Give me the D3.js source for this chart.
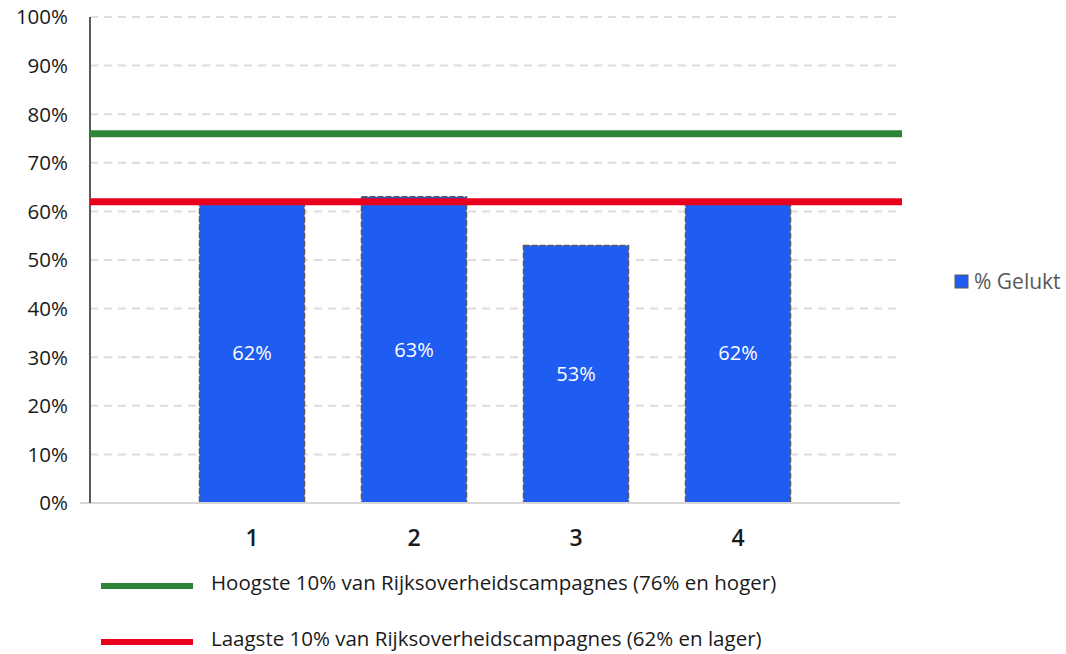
<!DOCTYPE html>
<html>
<head>
<meta charset="utf-8">
<script src="https://cdn.jsdelivr.net/npm/d3@7"></script>
<style>
  html, body { margin: 0; padding: 0; background: #fff; }
  svg { display: block; font-family: "Open Sans", Lato, sans-serif; }
</style>
</head>
<body>
<svg id="chart" width="1066" height="654"></svg>
<script>
// Campaign scores (% Gelukt) with benchmark thresholds
const categories = ["1", "2", "3", "4"];
const gelukt = [62, 63, 53, 62];
const yTicks = [0, 10, 20, 30, 40, 50, 60, 70, 80, 90, 100];
const benchmarkNames = [
  "Hoogste 10% van Rijksoverheidscampagnes (76% en hoger)",
  "Laagste 10% van Rijksoverheidscampagnes (62% en lager)"
];
const benchmarkValues = [76, 62];
const benchmarkColors = ["#2e8539", "#e8001c"];
const seriesName = "% Gelukt";

const svg = d3.select("#chart");
const plotLeft = 90, plotRight = 900, plotTop = 17, plotBottom = 503;

const y = d3.scaleLinear().domain([0, 100]).range([plotBottom, plotTop]);
// slots 0..5 span the plot; categories sit on slots 1..4
const x = d3.scalePoint().domain(["", ...categories, " "]).range([plotLeft, plotRight]);
const barW = 105;

// dashed gridlines
svg.append("g").selectAll("line")
  .data(yTicks.filter(t => t > 0))
  .join("line")
  .attr("x1", plotLeft).attr("x2", plotRight - 2)
  .attr("y1", d => y(d)).attr("y2", d => y(d))
  .attr("stroke", "#e0dcdc").attr("stroke-width", 2)
  .attr("stroke-dasharray", "8,6");

// y tick labels
svg.append("g").selectAll("text")
  .data(yTicks)
  .join("text")
  .attr("x", 68).attr("y", d => y(d))
  .attr("dy", "0.36em")
  .attr("text-anchor", "end")
  .attr("font-size", 20.5)
  .attr("fill", "#1a1a1a")
  .text(d => d + "%");

// bars
svg.append("g").selectAll("rect")
  .data(gelukt)
  .join("rect")
  .attr("x", (d, i) => x(categories[i]) - barW / 2)
  .attr("y", d => y(d))
  .attr("width", barW)
  .attr("height", d => y(0) - y(d))
  .attr("fill", "#1f5cf2")
  .attr("stroke", "#5a5a5a")
  .attr("stroke-width", 1.5)
  .attr("stroke-dasharray", "6,2");

// value labels inside the bars
svg.append("g").selectAll("text")
  .data(gelukt)
  .join("text")
  .attr("x", (d, i) => x(categories[i]))
  .attr("y", d => (y(d) + y(0)) / 2)
  .attr("dy", "0.36em")
  .attr("text-anchor", "middle")
  .attr("font-size", 20)
  .attr("fill", "#ffffff")
  .text(d => d + "%");

// axis lines
svg.append("line")
  .attr("x1", plotLeft - 10).attr("x2", plotRight)
  .attr("y1", plotBottom).attr("y2", plotBottom)
  .attr("stroke", "#d9d6d6").attr("stroke-width", 2);
svg.append("line")
  .attr("x1", plotLeft).attr("x2", plotLeft)
  .attr("y1", plotTop).attr("y2", plotBottom)
  .attr("stroke", "#5f5a5a").attr("stroke-width", 2);

// x category labels
svg.append("g").selectAll("text")
  .data(categories)
  .join("text")
  .attr("x", d => x(d))
  .attr("y", 538)
  .attr("dy", "0.36em")
  .attr("text-anchor", "middle")
  .attr("font-size", 23)
  .attr("font-weight", 600)
  .attr("fill", "#1a1a1a")
  .text(d => d);

// benchmark lines
svg.append("g").selectAll("line")
  .data(benchmarkValues)
  .join("line")
  .attr("x1", plotLeft).attr("x2", plotRight + 2)
  .attr("y1", d => y(d)).attr("y2", d => y(d))
  .attr("stroke", (d, i) => benchmarkColors[i])
  .attr("stroke-width", 7);

// series legend
const lg = svg.append("g").attr("transform", "translate(955,281)");
lg.append("rect")
  .attr("x", 0).attr("y", -6).attr("width", 13).attr("height", 13)
  .attr("fill", "#1f5cf2").attr("stroke", "#5a5a5a").attr("stroke-width", 1);
lg.append("text")
  .attr("x", 19).attr("y", 0).attr("dy", "0.36em")
  .attr("font-size", 21).attr("fill", "#595959")
  .text(seriesName);

// benchmark legend
const bl = svg.append("g").selectAll("g")
  .data(benchmarkNames)
  .join("g")
  .attr("transform", (d, i) => `translate(101,${586 + i * 56})`);
bl.append("line")
  .attr("x1", 0).attr("x2", 92).attr("y1", 0).attr("y2", 0)
  .attr("stroke", (d, i) => benchmarkColors[i])
  .attr("stroke-width", 6);
bl.append("text")
  .attr("x", 110).attr("y", -3).attr("dy", "0.36em")
  .attr("font-size", 20.5).attr("fill", "#1a1a1a")
  .text(d => d);
</script>
</body>
</html>
